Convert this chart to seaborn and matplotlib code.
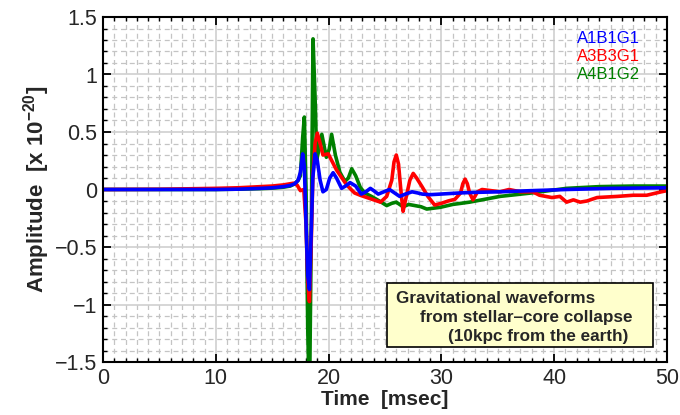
import numpy as np
import pandas as pd
import matplotlib
matplotlib.use("Agg")
import matplotlib.pyplot as plt
from matplotlib.patches import Rectangle
from matplotlib.ticker import MultipleLocator, FuncFormatter
import seaborn as sns

# ---- data ----
t_blue = [0, 5, 10, 12, 14, 15, 16, 16.6, 17.0, 17.3, 17.5, 17.7, 17.85, 18.0, 18.15, 18.3,
          18.45, 18.6, 18.8, 19.0, 19.25, 19.5, 19.8, 20.1, 20.4, 20.7, 21.15, 21.5, 21.9,
          22.4, 22.9, 23.3, 23.7, 24.0, 24.4, 24.9, 25.4, 25.85, 26.3, 26.8, 27.4, 27.9,
          28.3, 29.0, 29.9, 31.6, 33, 35.2, 38, 41.1, 45, 50]
a_blue = [0, 0, 0, 0.003, 0.01, 0.015, 0.025, 0.035, 0.05, 0.08, 0.15, 0.31, 0.2, -0.3,
          -0.75, -0.87, -0.4, 0.1, 0.31, 0.25, 0.08, -0.02, 0.0, 0.1, 0.146, 0.1, 0.01,
          0.03, 0.06, 0.03, -0.04, -0.02, 0.01, -0.01, -0.04, -0.02, 0.0, -0.03, -0.06,
          -0.04, -0.02, -0.03, -0.04, -0.045, -0.04, -0.03, -0.025, -0.02, -0.01, 0.0,
          0.01, 0.015]

t_red = [0, 5, 10, 12, 14, 15, 16, 16.6, 16.9, 17.2, 17.5, 17.8, 18.0, 18.15, 18.3, 18.45,
         18.6, 18.8, 19.0, 19.2, 19.5, 19.97, 20.7, 21.6, 22.3, 22.8, 23.7, 24.6, 25.15,
         25.6, 25.8, 26.0, 26.2, 26.4, 26.6, 26.8, 27.2, 27.5, 27.8, 28.25, 28.8, 29.4,
         30.0, 30.6, 31.2, 31.7, 31.9, 32.1, 32.3, 32.5, 32.8, 33.2, 33.6, 34.4, 35.2,
         36, 37, 38.1, 38.7, 39.8, 40.5, 41.1, 41.7, 42.3, 42.9, 43.8, 45.6, 47, 48.2,
         49.5, 50]
a_red = [0, 0.002, 0.01, 0.015, 0.025, 0.03, 0.04, 0.05, 0.055, 0.04, -0.01, 0.0, -0.3,
         -0.8, -0.975, -0.5, 0.1, 0.4, 0.49, 0.42, 0.30, 0.31, 0.17, 0.04, -0.03, -0.05,
         -0.08, -0.11, -0.06, 0.08, 0.24, 0.30, 0.22, 0.0, -0.19, -0.1, 0.08, 0.14, 0.1,
         0.03, -0.06, -0.135, -0.12, -0.1, -0.085, -0.03, 0.05, 0.09, 0.05, -0.03, -0.09,
         -0.02, 0.0, -0.01, -0.02, 0.0, -0.02, -0.02, -0.05, -0.07, -0.06, -0.11, -0.09,
         -0.11, -0.1, -0.07, -0.06, -0.05, -0.05, -0.02, -0.01]

t_green = [0, 5, 10, 12, 14, 15, 16, 16.6, 17.0, 17.3, 17.5, 17.7, 17.85, 18.0, 18.15,
           18.3, 18.45, 18.62, 18.8, 18.95, 19.15, 19.4, 19.8, 20.05, 20.27, 20.6, 21.0,
           21.45, 21.75, 22.05, 22.4, 22.8, 23.2, 23.8, 24.5, 25.15, 25.6, 26.0, 26.6,
           27.1, 27.66, 28.2, 28.7, 29.9, 31, 32.5, 35.2, 38, 41.1, 44, 47, 50]
a_green = [0, 0, 0, 0.003, 0.008, 0.012, 0.02, 0.03, 0.05, 0.08, 0.12, 0.45, 0.63, 0.0,
           -1.2, -1.9, -0.5, 1.31, 0.8, 0.26, 0.35, 0.48, 0.28, 0.35, 0.48, 0.3, 0.15,
           0.07, 0.1, 0.18, 0.12, 0.02, -0.03, -0.06, -0.1, -0.14, -0.12, -0.11, -0.15,
           -0.13, -0.14, -0.15, -0.17, -0.155, -0.13, -0.11, -0.06, -0.03, 0.01, 0.025,
           0.03, 0.03]

series_names = ["A1B1G1", "A3B3G1", "A4B1G2"]
series_colors = ["#0000ff", "#ff0000", "#008000"]
box_lines = ["Gravitational waveforms", "from stellar\u2013core collapse",
             "(10kpc from the earth)"]

df = pd.concat([
    pd.DataFrame({"t": t_blue, "a": a_blue, "model": series_names[0]}),
    pd.DataFrame({"t": t_red, "a": a_red, "model": series_names[1]}),
    pd.DataFrame({"t": t_green, "a": a_green, "model": series_names[2]}),
], ignore_index=True)

sns.set_style("white")
plt.rcParams["font.family"] = ["Liberation Sans", "DejaVu Sans"]
plt.rcParams["mathtext.fontset"] = "custom"
plt.rcParams["mathtext.rm"] = "Liberation Sans"
plt.rcParams["mathtext.bf"] = "Liberation Sans:bold"

fig = plt.figure(figsize=(6.8, 4.15), dpi=100)
ax = fig.add_axes([103 / 680, 1 - 362 / 415, 564 / 680, 345 / 415])

ax.set_xlim(0, 50)
ax.set_ylim(-1.5, 1.5)
ax.xaxis.set_major_locator(MultipleLocator(10))
ax.xaxis.set_minor_locator(MultipleLocator(1))
ax.yaxis.set_major_locator(MultipleLocator(0.5))
ax.yaxis.set_minor_locator(MultipleLocator(0.1))


def fmt(v, pos):
    s = "%g" % round(v, 6)
    if s == "-0":
        s = "0"
    return s.replace("-", "\u2212")


ax.xaxis.set_major_formatter(FuncFormatter(fmt))
ax.yaxis.set_major_formatter(FuncFormatter(fmt))
ax.grid(which="major", color="#cfcfcf", linewidth=1.2, linestyle="-")
ax.grid(which="minor", color="#c4c4c4", linewidth=0.9, linestyle=(0, (4, 3)))
ax.set_axisbelow(True)

palette = dict(zip(series_names, series_colors))
sns.lineplot(data=df, x="t", y="a", hue="model",
             hue_order=[series_names[2], series_names[1], series_names[0]],
             palette=palette, estimator=None, sort=False, legend=False,
             linewidth=2.6, ax=ax)
for ln in ax.lines:
    ln.set_solid_joinstyle("round")
    ln.set_solid_capstyle("round")

for s in ax.spines.values():
    s.set_color("black")
    s.set_linewidth(1.5)
    s.set_visible(True)
ax.tick_params(which="both", direction="in", top=True, right=True, bottom=True, left=True,
               color="black")
ax.tick_params(which="major", length=6, width=1.3, labelsize=15.5, pad=4)
ax.tick_params(which="minor", length=3, width=1.0)

ax.set_xlabel("Time  [msec]", fontsize=15, fontweight="bold", labelpad=1)
ax.set_ylabel(r"Amplitude  [x 10$^{\mathbf{-20}}$]", fontsize=16, fontweight="bold",
              labelpad=2)

# legend as coloured text
ys = [0.939, 0.886, 0.834]
for name, col, yy in zip(series_names, series_colors, ys):
    ax.text(0.952, yy, name, color=col, fontsize=12, ha="right", va="center",
            transform=ax.transAxes)

# annotation box
ax.add_patch(Rectangle((0.5035, 0.0426), 0.4715, 0.1855, transform=ax.transAxes,
                       facecolor="#ffffcc", edgecolor="black", linewidth=1.2, zorder=5))
box_x = [0.5195, 0.562, 0.6124]
box_y = [0.171, 0.117, 0.060]
for txt, bx, by in zip(box_lines, box_x, box_y):
    ax.text(bx, by, txt, fontsize=12.3, fontweight="bold", ha="left", va="baseline",
            transform=ax.transAxes, zorder=6)

fig.savefig("out.png", dpi=100)
